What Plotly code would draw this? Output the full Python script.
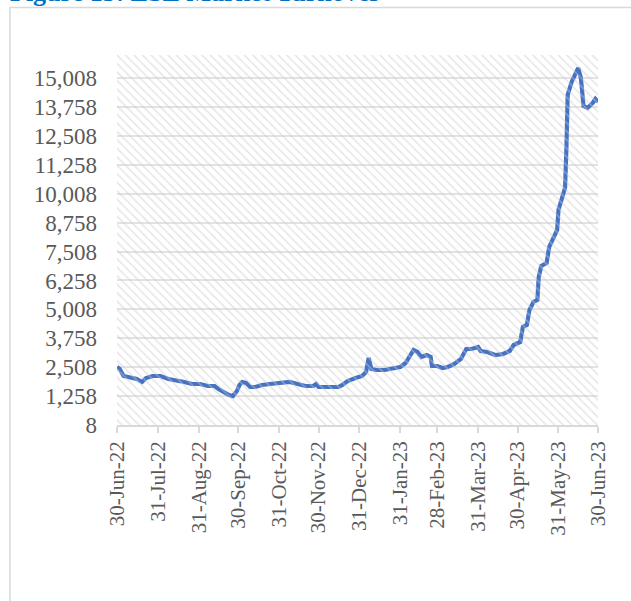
import plotly.graph_objects as go

dates = ["2022-06-30","2022-07-02","2022-07-05","2022-07-10","2022-07-15","2022-07-19","2022-07-22","2022-07-27",
         "2022-08-02","2022-08-08","2022-08-14","2022-08-20","2022-08-26","2022-09-01","2022-09-07","2022-09-12",
         "2022-09-15","2022-09-19","2022-09-23","2022-09-26","2022-09-29","2022-10-01","2022-10-03","2022-10-06",
         "2022-10-09","2022-10-13","2022-10-18","2022-10-24","2022-10-30","2022-11-04","2022-11-08","2022-11-14",
         "2022-11-20","2022-11-26","2022-11-28","2022-11-30","2022-12-09","2022-12-15","2022-12-18","2022-12-22",
         "2022-12-28","2023-01-02","2023-01-05","2023-01-06","2023-01-07","2023-01-09","2023-01-13","2023-01-19",
         "2023-01-25","2023-01-31","2023-02-04","2023-02-07","2023-02-10","2023-02-13","2023-02-16","2023-02-20",
         "2023-02-23","2023-02-24","2023-02-28","2023-03-04","2023-03-08","2023-03-13","2023-03-18","2023-03-22",
         "2023-03-26","2023-03-31","2023-04-02","2023-04-07","2023-04-13","2023-04-19","2023-04-24","2023-04-27",
         "2023-05-02","2023-05-04","2023-05-07","2023-05-09","2023-05-12","2023-05-15","2023-05-16","2023-05-18",
         "2023-05-22","2023-05-24","2023-05-27","2023-05-30","2023-05-31","2023-06-03","2023-06-05","2023-06-06",
         "2023-06-07","2023-06-10","2023-06-13","2023-06-15","2023-06-17","2023-06-19","2023-06-22","2023-06-26",
         "2023-06-28","2023-06-30"]
turnover = [2517,2430,2127,2040,1998,1868,2040,2127,
            2127,1998,1954,1868,1781,1781,1695,1695,
            1565,1435,1306,1262,1479,1738,1868,1825,
            1651,1651,1738,1781,1825,1868,1868,1781,
            1695,1695,1781,1651,1651,1651,1738,1911,
            2040,2127,2300,2603,2906,2430,2387,2387,
            2430,2517,2690,2949,3252,3165,2949,3035,
            2949,2560,2560,2473,2517,2646,2863,3295,
            3295,3382,3209,3165,3035,3079,3209,3468,
            3598,4247,4333,4982,5328,5414,6409,6885,
            7014,7706,8096,8442,9307,9869,10258,11900,
            14280,14843,15275,15448,15016,13804,13718,13934,
            14108,13978]

y_ticks = [8,1258,2508,3758,5008,6258,7508,8758,10008,11258,12508,13758,15008]
x_tickvals = ["2022-06-30","2022-07-31","2022-08-31","2022-09-30","2022-10-31","2022-11-30","2022-12-31",
              "2023-01-31","2023-02-28","2023-03-31","2023-04-30","2023-05-31","2023-06-30"]
x_ticktext = ["30-Jun-22","31-Jul-22","31-Aug-22","30-Sep-22","31-Oct-22","30-Nov-22","31-Dec-22",
              "31-Jan-23","28-Feb-23","31-Mar-23","30-Apr-23","31-May-23","30-Jun-23"]
title_text = "Figure 15: ESE Market Turnover"

fig = go.Figure()
# hatched plot-area background
fig.add_trace(go.Scatter(x=[0,1,1,0,0], y=[0,0,1,1,0], xaxis="x2", yaxis="y2",
                         mode="lines", line=dict(width=0), fill="toself",
                         fillcolor="rgba(0,0,0,0)",
                         fillpattern=dict(shape="\\", fgcolor="#cbcbcb", size=6, solidity=0.25),
                         hoverinfo="skip", showlegend=False))
fig.add_trace(go.Scatter(x=dates, y=turnover, mode="lines",
                         line=dict(color="#4472C4", width=4.2), showlegend=False))

x_font = dict(family="Liberation Serif", size=21, color="#595959")
y_font = dict(family="Liberation Serif", size=23, color="#595959")
fig.update_layout(
    width=631, height=601,
    margin=dict(l=117, r=33, t=55, b=176),
    paper_bgcolor="white", plot_bgcolor="white",
    xaxis=dict(type="date", range=["2022-06-30","2023-06-30"], tickvals=x_tickvals, ticktext=x_ticktext,
               tickangle=-90, tickfont=x_font, showgrid=False, showline=True, linecolor="#d9d9d9",
               linewidth=1.5, ticks="outside", ticklen=6, tickcolor="#d9d9d9", tickwidth=1.5, zeroline=False),
    yaxis=dict(range=[8,16008], tickvals=y_ticks, tickformat=",d", tickfont=y_font,
               showgrid=True, gridcolor="#e3e3e3", gridwidth=1.5, zeroline=False, showline=False,
               ticks="", ticklabelstandoff=19),
    xaxis2=dict(overlaying="x", range=[0,1], visible=False),
    yaxis2=dict(overlaying="y", range=[0,1], visible=False),
)
fig.add_shape(type="rect", xref="paper", yref="paper",
              x0=(10-117)/481, x1=1.2, y0=-0.5, y1=(425-7.5)/370,
              line=dict(color="#d9d9d9", width=1.5), layer="below")
fig.add_annotation(text="<b>"+title_text+"</b>", xref="paper", yref="paper",
                   x=(8-117)/481, y=(425-9)/370, xanchor="left", yanchor="bottom", showarrow=False,
                   font=dict(family="Liberation Serif", size=26, color="#0070C0"))
fig.write_html("out.html", config={"displayModeBar": False},
               post_script="document.body.style.margin='0px';document.body.style.overflow='hidden';")
